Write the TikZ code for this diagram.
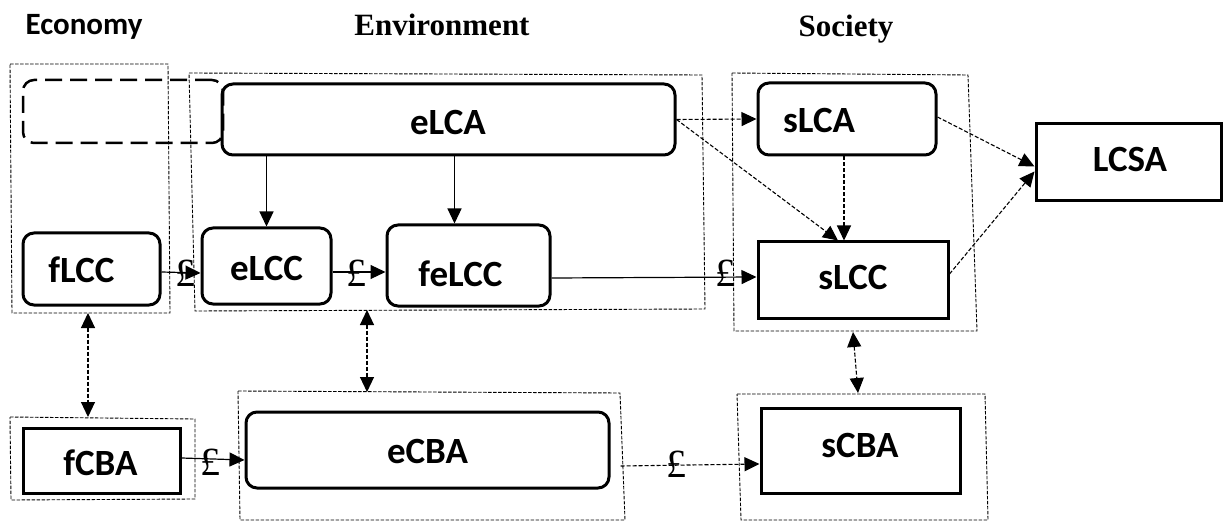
\documentclass[tikz,border=0pt]{standalone}
\usepackage{fontspec}
\newfontfamily\boxfont{Carlito}
\newfontfamily\serifhead{Liberation Serif}
\usetikzlibrary{arrows.meta}
\tikzset{
  x=1pt, y=-1pt,
  tip/.style={Triangle[length=15pt,width=14pt]},
  boxlbl/.style={inner sep=0, anchor=base, font=\boxfont\bfseries\fontsize{37}{40}\selectfont},
  headsans/.style={inner sep=0, anchor=base, font=\boxfont\bfseries\fontsize{31}{36}\selectfont},
  headserif/.style={inner sep=0, anchor=base, font=\serifhead\bfseries\fontsize{31}{36}\selectfont},
  pound/.style={inner sep=0, anchor=base, font=\serifhead\fontsize{40}{44}\selectfont},
  rbox/.style={draw, line width=3pt, rounded corners=11pt, inner sep=0},
  sbox/.style={draw, line width=3pt, inner sep=0},
  phbox/.style={draw, line width=2.5pt, rounded corners=11pt, inner sep=0, dash pattern=on 17pt off 8pt},
  grp/.style={line width=0.9pt, dash pattern=on 3.5pt off 1.5pt},
  arr/.style={line width=1.2pt, -{Triangle[length=15pt,width=14pt]}},
  darr/.style={line width=1.1pt, dash pattern=on 4pt off 2pt, -{Triangle[length=15pt,width=14pt]}},
  dbl/.style={line width=1.1pt, dash pattern=on 4pt off 2pt, {Triangle[length=15pt,width=14pt]}-{Triangle[length=15pt,width=14pt]}},
}
\begin{document}
\begin{tikzpicture}
\useasboundingbox (0,0) rectangle (1228,521);

% column headings
\node[headsans]  (hEco) at (84,35)  {Economy};
\node[headserif] (hEnv) at (442,36) {Environment};
\node[headserif] (hSoc) at (846,37) {Society};

% dashed group frames
\coordinate (gE1) at (10,64);   \coordinate (gE2) at (168,64);  \coordinate (gE3) at (170,313); \coordinate (gE4) at (12,313);
\coordinate (gV1) at (189,73);  \coordinate (gV2) at (702,75);  \coordinate (gV3) at (705,309); \coordinate (gV4) at (195,311);
\coordinate (gS1) at (732,73);  \coordinate (gS2) at (968,75);  \coordinate (gS3) at (977,331); \coordinate (gS4) at (734,331);
\coordinate (gF1) at (10,417);  \coordinate (gF2) at (195,419); \coordinate (gF3) at (195,499); \coordinate (gF4) at (11,500);
\coordinate (gC1) at (238,391); \coordinate (gC2) at (620,393); \coordinate (gC3) at (625,520); \coordinate (gC4) at (240,520);
\coordinate (gB1) at (737,394); \coordinate (gB2) at (985,394); \coordinate (gB3) at (988,520); \coordinate (gB4) at (741,520);
\draw[grp] (gE1) -- (gE2) -- (gE3) -- (gE4) -- cycle;
\draw[grp] (gV1) -- (gV2) -- (gV3) -- (gV4) -- cycle;
\draw[grp] (gS1) -- (gS2) -- (gS3) -- (gS4) -- cycle;
\draw[grp] (gF1) -- (gF2) -- (gF3) -- (gF4) -- cycle;
\draw[grp] (gC1) -- (gC2) -- (gC3) -- (gC4) -- cycle;
\draw[grp] (gB1) -- (gB2) -- (gB3) -- (gB4) -- cycle;

% boxes
\node[phbox, minimum width=200pt, minimum height=63pt] (ph)    at (123,111.5) {};
\node[rbox, minimum width=453pt, minimum height=71pt]  (elca)  at (448.5,119.5) {};
\node[rbox, minimum width=178pt, minimum height=72pt]  (slca)  at (847,119) {};
\node[sbox, minimum width=185pt, minimum height=77pt]  (lcsa)  at (1128.5,162.5) {};
\node[sbox, minimum width=190pt, minimum height=76pt]  (slcc)  at (853,280) {};
\node[rbox, minimum width=137pt, minimum height=72pt]  (flcc)  at (91.5,269) {};
\node[rbox, minimum width=129pt, minimum height=76pt]  (elcc)  at (266.5,266) {};
\node[rbox, minimum width=163pt, minimum height=81pt]  (felcc) at (468.5,265.5) {};
\node[sbox, minimum width=157pt, minimum height=65pt]  (fcba)  at (101.5,460.5) {};
\node[rbox, minimum width=363pt, minimum height=76pt]  (ecba)  at (427.5,450) {};
\node[sbox, minimum width=199pt, minimum height=85pt]  (scba)  at (860.5,450.5) {};

% box labels
\node[boxlbl] (elca-t)  at (448,135)   {eLCA};
\node[boxlbl] (slca-t)  at (819,133)   {sLCA};
\node[boxlbl] (lcsa-t)  at (1130,172)  {LCSA};
\node[boxlbl] (slcc-t)  at (853,290)   {sLCC};
\node[boxlbl] (flcc-t)  at (81.5,283)  {fLCC};
\node[boxlbl] (elcc-t)  at (266.5,280) {eLCC};
\node[boxlbl] (felcc-t) at (460.5,286) {feLCC};
\node[boxlbl] (fcba-t)  at (100.5,475) {fCBA};
\node[boxlbl] (ecba-t)  at (427.5,463) {eCBA};
\node[boxlbl] (scba-t)  at (860,457)   {sCBA};

% solid flows from eLCA
\draw[arr] (elcc.north |- elca.south) -- (elcc.north);
\coordinate (fx) at ([xshift=-14pt]felcc.north);
\draw[arr] (elca.south -| fx) -- (fx);

% dashed flows towards the social assessments
\draw[darr] (elca.east) -- (slca.west);
\draw[darr] (elca.east) -- ([xshift=-15pt]slcc.north);
\draw[darr] ([xshift=-3pt]slca.south) -- ([xshift=-9pt]slcc.north);
\draw[darr] ([yshift=2pt]slca.east) -- ([yshift=-4pt]lcsa.west);
\draw[darr] ([yshift=6pt]slcc.east) -- ([yshift=-9pt]lcsa.west);

% monetary flows
\draw[arr] ([yshift=-3pt]flcc.east) -- ([yshift=-7pt]elcc.west);
\node[pound] (p1) at (185,287) {£};
\draw[arr] ([yshift=-6pt]elcc.east) -- ([yshift=-6.5pt]felcc.west);
\node[pound] (p2) at (356,287) {£};
\draw[arr] ([yshift=-12.5pt]felcc.east) -- ([yshift=3pt]slcc.west);
\node[pound] (p3) at (725,287) {£};
\draw[arr] ([yshift=2.5pt]fcba.east) -- ([yshift=-10pt]ecba.west);
\node[pound] (p4) at (210,475) {£};
\draw[darr] ([xshift=10pt,yshift=-16pt]ecba.east) -- ([yshift=-13.5pt]scba.west);
\node[pound] (p5) at (676,477) {£};

% two-way links between the frames
\coordinate (d1a) at (88,313);   \coordinate (d1b) at (88,417);
\coordinate (d2a) at (367,310);  \coordinate (d2b) at (367,392);
\coordinate (d3a) at (853,332);  \coordinate (d3b) at (858,393);
\draw[dbl] (d1a) -- (d1b);
\draw[dbl] (d2a) -- (d2b);
\draw[dbl] (d3a) -- (d3b);
\end{tikzpicture}
\end{document}
